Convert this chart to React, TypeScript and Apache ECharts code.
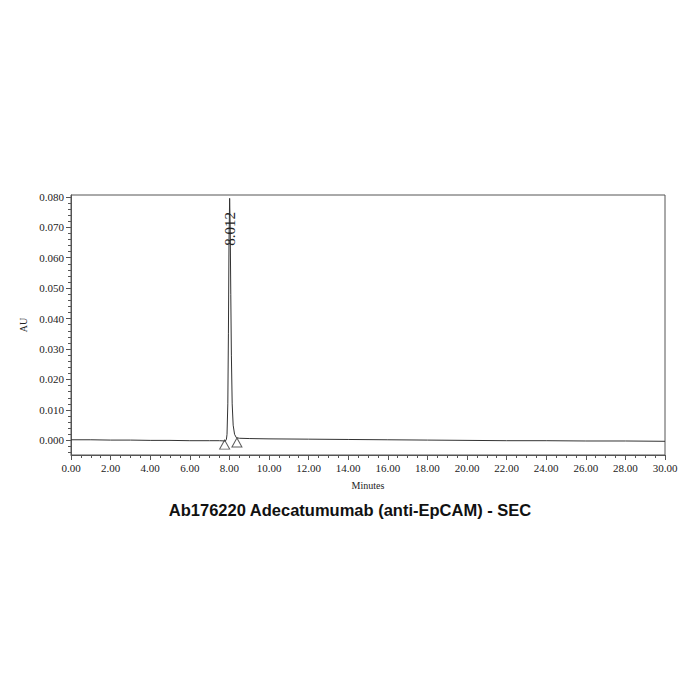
import { useEffect, useRef } from 'react';
import * as echarts from 'echarts';

// chromatogram trace (minutes, AU)
const times = [
  0, 1, 2, 3, 4, 5, 6, 7, 7.5, 7.8, 7.85, 7.88, 7.92, 7.95, 7.98, 8.012, 8.04, 8.07, 8.1,
  8.14, 8.19, 8.26, 8.35, 8.5, 9, 10, 12, 14, 16, 18, 20, 22, 24, 26, 28, 30,
];
const absorbance = [
  0.0002, 0.0002, 0.0001, 0.0001, 0.0, 0.0, -0.0001, -0.0001, -0.0001, -0.0002, 0.0004, 0.002,
  0.012, 0.035, 0.065, 0.0795, 0.07, 0.048, 0.028, 0.012, 0.005, 0.002, 0.0009, 0.0007, 0.0006,
  0.0005, 0.0004, 0.0003, 0.0002, 0.0001, 0.0, -0.0001, -0.0001, -0.0002, -0.0002, -0.0003,
];

// integration start / end markers
const markerTimes = [7.76, 8.38];
const markerValues = [-0.0014, -0.0007];

const peakLabel = '8.012';
const peakTime = 8.012;
const peakLabelValue = 0.0695;

const yTicks = [0, 0.01, 0.02, 0.03, 0.04, 0.05, 0.06, 0.07, 0.08];
const yMinorTicks = [-0.004, -0.002, 0, 0.002, 0.004, 0.006, 0.008, 0.01, 0.012, 0.014, 0.016,
  0.018, 0.02, 0.022, 0.024, 0.026, 0.028, 0.03, 0.032, 0.034, 0.036, 0.038, 0.04, 0.042, 0.044,
  0.046, 0.048, 0.05, 0.052, 0.054, 0.056, 0.058, 0.06, 0.062, 0.064, 0.066, 0.068, 0.07, 0.072,
  0.074, 0.076, 0.078, 0.08];

const title = 'Ab176220 Adecatumumab (anti-EpCAM) - SEC';

function App() {
  const chartRef = useRef<HTMLDivElement>(null);

  useEffect(() => {
    if (!chartRef.current) return;
    const chart = echarts.init(chartRef.current, null, { renderer: 'svg' });

    const serif = '"Liberation Serif", "DejaVu Serif", serif';
    const axisColor = '#555';
    const textColor = '#222';
    const yMin = -0.0048;
    const yMax = 0.0806;

    const option: echarts.EChartsOption = {
      animation: false,
      backgroundColor: '#fff',
      textStyle: { fontFamily: serif },
      title: {
        text: title,
        left: 'center',
        top: 496,
        textStyle: {
          fontFamily: '"Liberation Sans", Arial, sans-serif',
          fontWeight: 'bold',
          fontSize: 16.5,
          color: '#111',
        },
      },
      grid: {
        left: 71,
        right: 35,
        top: 195,
        bottom: 245,
        show: true,
        borderColor: axisColor,
        borderWidth: 1,
      },
      xAxis: {
        type: 'value',
        min: 0,
        max: 30,
        interval: 2,
        name: 'Minutes',
        nameLocation: 'middle',
        nameGap: 25,
        nameTextStyle: { fontFamily: serif, fontSize: 10, color: textColor },
        axisLine: { onZero: false, lineStyle: { color: axisColor } },
        axisTick: { length: 5, lineStyle: { color: axisColor } },
        minorTick: { show: true, splitNumber: 4, length: 3, lineStyle: { color: axisColor } },
        axisLabel: {
          fontFamily: serif,
          fontSize: 11,
          color: textColor,
          margin: 7,
          formatter: (v: number) => v.toFixed(2),
        },
        splitLine: { show: false },
      },
      yAxis: [
        {
          type: 'value',
          min: yMin,
          max: yMax,
          name: 'AU',
          nameLocation: 'middle',
          nameGap: 38,
          nameRotate: 90,
          nameTextStyle: { fontFamily: serif, fontSize: 10, color: textColor },
          axisLine: { show: true, lineStyle: { color: axisColor } },
          axisTick: { show: true, length: 5, customValues: yTicks, lineStyle: { color: axisColor } },
          axisLabel: {
            fontFamily: serif,
            fontSize: 11,
            color: textColor,
            margin: 7,
            customValues: yTicks,
            formatter: (v: number) => v.toFixed(3),
          },
          splitLine: { show: false },
        },
        {
          type: 'value',
          position: 'left',
          min: yMin,
          max: yMax,
          axisLine: { show: false },
          axisTick: { show: true, length: 3, customValues: yMinorTicks, lineStyle: { color: axisColor } },
          axisLabel: { show: false },
          splitLine: { show: false },
        },
      ],
      series: [
        {
          type: 'line',
          data: times.map((t, i) => [t, absorbance[i]]),
          showSymbol: false,
          lineStyle: { color: '#333', width: 1 },
          markPoint: {
            symbol: 'circle',
            symbolSize: 0,
            label: {
              show: true,
              formatter: peakLabel,
              position: 'inside',
              rotate: 90,
              fontFamily: serif,
              fontSize: 15,
              color: '#222',
            },
            data: [{ coord: [peakTime, peakLabelValue] }],
          },
        },
        {
          type: 'scatter',
          data: markerTimes.map((t, i) => [t, markerValues[i]]),
          symbol: 'triangle',
          symbolSize: [10, 9],
          itemStyle: { color: '#fff', borderColor: '#333', borderWidth: 1 },
        },
      ],
    };

    chart.setOption(option);
    return () => {
      chart.dispose();
    };
  }, []);

  return (
    <div
      ref={chartRef}
      style={{ position: 'absolute', left: 0, top: 0, width: '700px', height: '700px' }}
    />
  );
}

export default App;
